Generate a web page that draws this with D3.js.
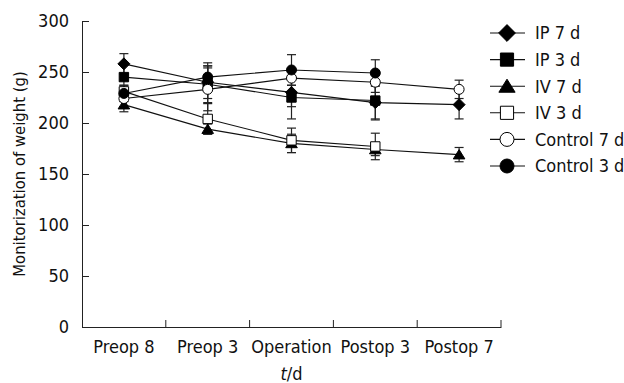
<!DOCTYPE html>
<html>
<head>
<meta charset="utf-8">
<script src="https://cdn.jsdelivr.net/npm/d3@7"></script>
<style>
	body { margin: 0; background: #fff; }
	svg text { font-family: "DejaVu Sans Condensed", "DejaVu Sans", Tahoma, sans-serif; font-stretch: condensed; fill: #111; }
</style>
</head>
<body>
<div id="chart"></div>
<script>

var categories = ["Preop 8", "Preop 3", "Operation", "Postop 3", "Postop 7"];
var yTicks = [0, 50, 100, 150, 200, 250, 300];

var seriesNames = ["IP 7 d", "IP 3 d", "IV 7 d", "IV 3 d", "Control 7 d", "Control 3 d"];
var ip7Values = [258, 240, 230, 220, 218];
var ip7Sd = [10, 16, 14, 17, 14];
var ip3Values = [245, 238, 225, 222];
var ip3Sd = [12, 18, 21, 18];
var iv7Values = [218, 194, 180, 174, 169];
var iv7Sd = [7, 5, 9, 6, 7];
var iv3Values = [231, 204, 183, 177];
var iv3Sd = [6, 15, 12, 13];
var ctl7Values = [224, 233, 244, 240, 233];
var ctl7Sd = [8, 21, 7, 10, 9];
var ctl3Values = [229, 245, 252, 249];
var ctl3Sd = [8, 14, 15, 13];


var W = 624, H = 383,
	margin = {top: 21, right: 123, bottom: 56, left: 82},
	width = W - margin.left - margin.right,
	height = H - margin.top - margin.bottom;

// marker shapes around 0,0, k scales them (legend markers are bigger)
function shapePath(type, k) {
	if(type == "diamond") { return "M0," + (-6*k) + "L" + (6*k) + ",0L0," + (6*k) + "L" + (-6*k) + ",0Z"; }
	if(type == "square") { return "M" + (-4.7*k) + "," + (-4.7*k) + "H" + (4.7*k) + "V" + (4.7*k) + "H" + (-4.7*k) + "Z"; }
	if(type == "triangle") { return "M0," + (-5*k) + "L" + (5.8*k) + "," + (4.3*k) + "L" + (-5.8*k) + "," + (4.3*k) + "Z"; }
	var r = 5 * k;
	return "M" + (-r) + ",0A" + r + "," + r + " 0 1,0 " + r + ",0A" + r + "," + r + " 0 1,0 " + (-r) + ",0Z";
}

var series = [
	{name: seriesNames[0], values: ip7Values, sd: ip7Sd, shape: "diamond", fill: "#000"},
	{name: seriesNames[1], values: ip3Values, sd: ip3Sd, shape: "square", fill: "#000"},
	{name: seriesNames[2], values: iv7Values, sd: iv7Sd, shape: "triangle", fill: "#000"},
	{name: seriesNames[3], values: iv3Values, sd: iv3Sd, shape: "square", fill: "#fff"},
	{name: seriesNames[4], values: ctl7Values, sd: ctl7Sd, shape: "circle", fill: "#fff"},
	{name: seriesNames[5], values: ctl3Values, sd: ctl3Sd, shape: "circle", fill: "#000"}
];

var svg = d3.select("#chart").append("svg")
	.attr("width", W)
	.attr("height", H);

var g = svg.append("g")
	.attr("transform", "translate(" + margin.left + "," + margin.top + ")");

var x = d3.scaleBand().domain(categories).range([0, width]).padding(0);
var y = d3.scaleLinear().domain([0, 300]).range([height, 0]);

// y axis, ticks pointing inside
var yAxis = g.append("g")
	.call(d3.axisLeft(y).tickValues(yTicks).tickSize(-7).tickSizeOuter(0).tickPadding(13));
yAxis.selectAll("text").style("font-size", "18px");
yAxis.selectAll("line, path").attr("stroke", "#222");

// x axis: labels in the band centres, ticks on the band edges
var xAxis = g.append("g")
	.attr("transform", "translate(0," + height + ")")
	.call(d3.axisBottom(x).tickSize(0).tickSizeOuter(0).tickPadding(13));
xAxis.selectAll("text").style("font-size", "18px");
xAxis.select("path").attr("stroke", "#222");

xAxis.selectAll(".edge")
	.data(categories.slice(1).map(function(c) { return x(c); }).concat([width]))
	.enter().append("line")
	.attr("x1", function(d) { return d; })
	.attr("x2", function(d) { return d; })
	.attr("y1", 0)
	.attr("y2", -7)
	.attr("stroke", "#222");

svg.append("text")
	.attr("transform", "translate(25," + (margin.top + height / 2) + ") rotate(-90)")
	.attr("text-anchor", "middle")
	.style("font-size", "16.5px")
	.text("Monitorization of weight (g)");

var xt = svg.append("text")
	.attr("x", margin.left + width / 2)
	.attr("y", 380)
	.attr("text-anchor", "middle")
	.style("font-size", "18px");
xt.append("tspan").style("font-style", "italic").text("t");
xt.append("tspan").text("/d");

var line = d3.line()
	.x(function(d, i) { return x(categories[i]) + x.bandwidth() / 2; })
	.y(function(d) { return y(d); });

// lines first
series.forEach(function(s) {
	g.append("path")
		.attr("d", line(s.values))
		.attr("fill", "none")
		.attr("stroke", "#111")
		.attr("stroke-width", 1.1);
});

// error bars
series.forEach(function(s) {
	var eb = g.append("g").selectAll("g")
		.data(s.values)
		.enter().append("g")
		.attr("transform", function(d, i) { return "translate(" + (x(categories[i]) + x.bandwidth() / 2) + ",0)"; })
		.attr("stroke", "#222")
		.attr("stroke-width", 1.2);

	eb.append("line")
		.attr("y1", function(d, i) { return y(d + s.sd[i]); })
		.attr("y2", function(d, i) { return y(d - s.sd[i]); });
	eb.append("line")
		.attr("x1", -4.5).attr("x2", 4.5)
		.attr("y1", function(d, i) { return y(d + s.sd[i]); })
		.attr("y2", function(d, i) { return y(d + s.sd[i]); });
	eb.append("line")
		.attr("x1", -4.5).attr("x2", 4.5)
		.attr("y1", function(d, i) { return y(d - s.sd[i]); })
		.attr("y2", function(d, i) { return y(d - s.sd[i]); });
});

// markers
series.forEach(function(s) {
	g.append("g").selectAll("path")
		.data(s.values)
		.enter().append("path")
		.attr("d", shapePath(s.shape, 1))
		.attr("transform", function(d, i) { return "translate(" + (x(categories[i]) + x.bandwidth() / 2) + "," + y(d) + ")"; })
		.attr("fill", s.fill)
		.attr("stroke", "#000")
		.attr("stroke-width", 1);
});

// legend
var legend = svg.append("g")
	.attr("transform", "translate(490,33)")
	.selectAll("g")
	.data(series)
	.enter().append("g")
	.attr("transform", function(d, i) { return "translate(0," + (i * 26.6) + ")"; });

legend.append("line")
	.attr("x1", 0).attr("x2", 35)
	.attr("stroke", "#111")
	.attr("stroke-width", 1.1);

legend.append("path")
	.attr("d", function(d) { return shapePath(d.shape, 1.4); })
	.attr("transform", "translate(17,0)")
	.attr("fill", function(d) { return d.fill; })
	.attr("stroke", "#000");

legend.append("text")
	.attr("x", 45)
	.attr("dy", "0.35em")
	.style("font-size", "18px")
	.text(function(d) { return d.name; });

</script>
</body>
</html>
